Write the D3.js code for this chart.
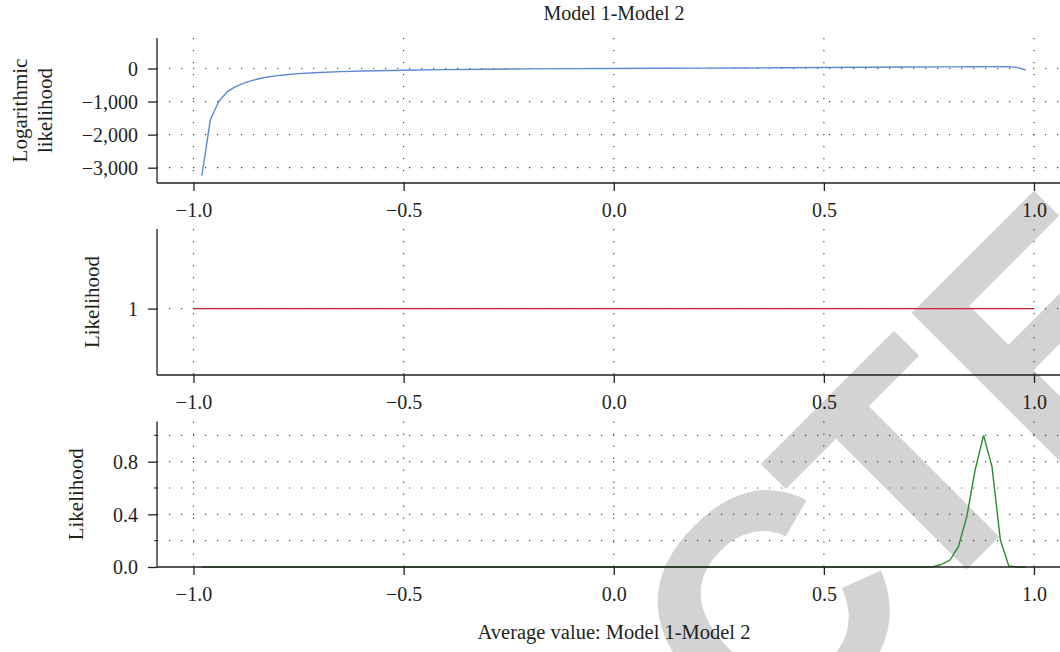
<!DOCTYPE html>
<html>
<head>
<meta charset="utf-8">
<script src="https://cdn.jsdelivr.net/npm/d3@7"></script>
<style>
	body { margin: 0; background: #fff; }
	svg { display: block; }
	text { font-family: "Liberation Serif", "Times New Roman", serif; fill: #231f20; }
</style>
</head>
<body>
<svg id="chart" width="1060" height="652"></svg>
<script>

// top panel: logarithmic likelihood over the average value
var llX = [-0.98, -0.96, -0.94, -0.92, -0.90, -0.88, -0.86, -0.84, -0.82, -0.80,
	-0.78, -0.75, -0.70, -0.65, -0.60, -0.50, -0.40, -0.30, -0.20, -0.10,
	0.00, 0.10, 0.20, 0.30, 0.40, 0.50, 0.60, 0.70, 0.80, 0.86, 0.90, 0.94, 0.96, 0.98];
var llY = [-3240, -1560, -1000, -705, -550, -440, -360, -295, -250, -215,
	-188, -155, -120, -95, -76, -52, -35, -22, -12, -5,
	0, 6, 10, 16, 23, 30, 37, 44, 50, 53, 55, 52, 35, -45];

// middle panel: flat likelihood
var flatX = [-1.0, 1.0];
var flatY = [1, 1];

// bottom panel: likelihood peak
var postX = [-0.98, 0.74, 0.76, 0.78, 0.80, 0.82, 0.84, 0.86, 0.88, 0.90, 0.92, 0.94, 0.96, 0.98];
var postY = [0, 0, 0.002, 0.02, 0.053, 0.154, 0.382, 0.737, 1.0, 0.762, 0.205, 0.008, 0, 0];

// ticks and labels
var xTicks = [-1.0, -0.5, 0.0, 0.5, 1.0];
var llTicks = [0, -1000, -2000, -3000];
var flatTicks = [1];
var postTicks = [0.0, 0.4, 0.8];
var postGrid = [0.2, 0.4, 0.6, 0.8, 1.0];
var postMinor = [0.2, 0.6, 1.0];

var title = "Model 1-Model 2";
var xTitle = "Average value: Model 1-Model 2";
var stamp = "RETRACTED";

var W = 1060, axisX = 157;
var svg = d3.select("#chart");

// retraction stamp sits behind the plots
var wm = svg.append("g").attr("transform", "translate(983,553) rotate(-45)");
var wt = wm.append("text")
	.text(stamp)
	.attr("dx", "0 0 0 0 0 22 -22 0 0")   // pull the C a little closer to the T
	.style("font-family", '"Liberation Sans", Arial, sans-serif')
	.style("font-weight", "bold")
	.style("font-size", "320px")
	.style("fill", "#d3d3d3");
var ext = wt.node().getExtentOfChar(6);   // the T
wt.attr("x", -(ext.x + ext.width / 2));

var x = d3.scaleLinear().domain([-1, 1]).range([193.5, 1034]);

var panels = [
	{ top: 38, bottom: 183, domain: [-3463, 922], ticks: llTicks, grid: llTicks, fmt: d3.format(","),
	  xs: llX, ys: llY, color: "#5b8bd5", label: ["Logarithmic", "likelihood"], labelX: [27, 52] },
	{ top: 229, bottom: 375, domain: [0.5, 1.6], ticks: flatTicks, grid: flatTicks, fmt: d3.format("d"),
	  xs: flatX, ys: flatY, color: "#c8262e", label: ["Likelihood"], labelX: [99] },
	{ top: 421.5, bottom: 567, domain: [0, 1.105], ticks: postTicks, grid: postGrid, fmt: d3.format(".1f"),
	  xs: postX, ys: postY, color: "#2a8c2a", label: ["Likelihood"], labelX: [83], minor: postMinor }
];

panels.forEach(function(p) {
	var y = d3.scaleLinear().domain(p.domain).range([p.bottom, p.top]);
	var g = svg.append("g");

	// dotted grid
	g.selectAll(".hgrid").data(p.grid).enter().append("line")
		.attr("x1", axisX).attr("x2", W)
		.attr("y1", d => y(d)).attr("y2", d => y(d))
		.attr("stroke", "#444").attr("stroke-width", 1.2)
		.attr("stroke-dasharray", "1.2,10.8");
	g.selectAll(".vgrid").data(xTicks).enter().append("line")
		.attr("x1", d => x(d)).attr("x2", d => x(d))
		.attr("y1", p.top).attr("y2", p.bottom)
		.attr("stroke", "#444").attr("stroke-width", 1.2)
		.attr("stroke-dasharray", "1.2,10.8");

	// curve
	var pts = p.xs.map((d, i) => [d, p.ys[i]]);
	g.append("path")
		.datum(pts)
		.attr("fill", "none")
		.attr("stroke", p.color)
		.attr("stroke-width", 1.4)
		.attr("d", d3.line().x(d => x(d[0])).y(d => y(d[1])));

	// axes
	var ax = g.append("g").attr("transform", "translate(0," + p.bottom + ")")
		.call(d3.axisBottom(x).tickValues(xTicks).tickFormat(d3.format(".1f"))
			.tickSize(8).tickPadding(12));
	var ay = g.append("g").attr("transform", "translate(" + axisX + ",0)")
		.call(d3.axisLeft(y).tickValues(p.ticks).tickFormat(p.fmt)
			.tickSize(9).tickPadding(10));
	[ax, ay].forEach(function(a) {
		a.select(".domain").remove();
		a.selectAll("line").attr("stroke", "#231f20").attr("stroke-width", 1.3);
		a.selectAll("text").style("font-size", "20px").attr("fill", null);
	});
	ay.selectAll("text").attr("dy", "0.34em");

	if (p.minor) {
		g.selectAll(".minor").data(p.minor).enter().append("line")
			.attr("x1", axisX - 3).attr("x2", axisX)
			.attr("y1", d => y(d)).attr("y2", d => y(d))
			.attr("stroke", "#231f20").attr("stroke-width", 1);
	}

	g.append("line").attr("x1", axisX).attr("x2", W)
		.attr("y1", p.bottom).attr("y2", p.bottom)
		.attr("stroke", "#231f20").attr("stroke-width", 1.3);
	g.append("line").attr("x1", axisX).attr("x2", axisX)
		.attr("y1", p.top).attr("y2", p.bottom)
		.attr("stroke", "#231f20").attr("stroke-width", 1.3);

	// y label
	var cy = (p.top + p.bottom) / 2;
	p.label.forEach(function(t, i) {
		svg.append("text")
			.attr("transform", "translate(" + p.labelX[i] + "," + cy + ") rotate(-90)")
			.attr("text-anchor", "middle")
			.style("font-size", "21px")
			.text(t);
	});
});

svg.append("text").attr("x", 614).attr("y", 20)
	.attr("text-anchor", "middle").style("font-size", "20px").text(title);
svg.append("text").attr("x", 614).attr("y", 639)
	.attr("text-anchor", "middle").style("font-size", "20.5px").text(xTitle);

</script>
</body>
</html>
